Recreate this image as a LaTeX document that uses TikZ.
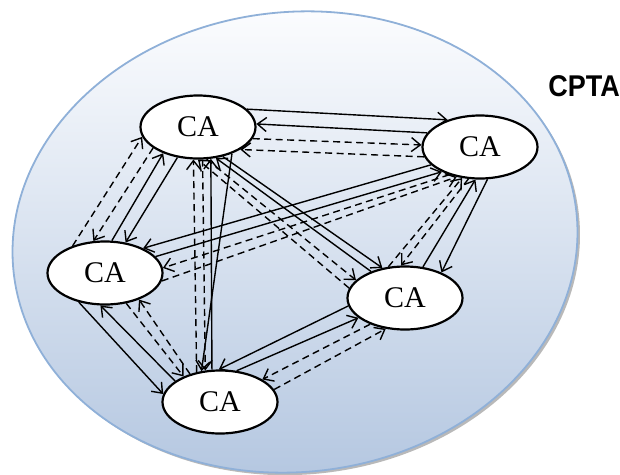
\documentclass[tikz,border=0pt]{standalone}
\usepackage{graphicx}
\usepackage{fontspec}
\setmainfont{Liberation Serif}
\setsansfont{Liberation Sans}
\usetikzlibrary{shapes, arrows.meta}

\definecolor{cptaedge}{HTML}{8FB0D8}
\definecolor{cptatop}{HTML}{FBFCFE}
\definecolor{cptabot}{HTML}{B3C6E0}

\begin{document}
\begin{tikzpicture}[x=1pt, y=-1pt,
    ca/.style={ellipse, draw, line width=2.2pt, fill=white, minimum width=115pt, minimum height=63pt, inner sep=0pt, font=\fontsize{30}{32}\selectfont},
    sarr/.style={-{Straight Barb[length=9pt, width=14pt]}, line width=1.4pt},
    darr/.style={sarr, dash pattern=on 7pt off 4.5pt}]
    \useasboundingbox (0,0) rectangle (620,474);
    \fill[gray!55, rotate around={6:(297.5,244.5)}] (297.5,244.5) ellipse [x radius=283, y radius=230];
    \shadedraw[top color=cptatop, bottom color=cptabot, draw=cptaedge, line width=1.8pt, rotate around={6:(295,242)}] (295,242) ellipse [x radius=283, y radius=230];
    \node[font=\fontsize{30}{32}\selectfont\sffamily\bfseries] (CPTA) at (584,86) {\scalebox{0.9}[1]{CPTA}};

    \node[ca] (CA_tl) at (198,127) {CA};
    \node[ca] (CA_tr) at (480,147) {CA};
    \node[ca] (CA_l) at (105,273) {CA};
    \node[ca] (CA_r) at (405,298) {CA};
    \node[ca] (CA_b) at (220,402) {CA};

    \draw[sarr] (CA_tl.20) -- (CA_tr.140);
    \draw[sarr] (CA_tr.165) -- (CA_tl.3);
    \draw[darr] (CA_tl.348) -- (CA_tr.178);
    \draw[darr] (CA_tr.190) -- (CA_tl.332);

    \draw[darr] (CA_l.140) -- (CA_tl.190);
    \draw[darr] (CA_tl.205) -- (CA_l.110);
    \draw[sarr] (CA_l.78) -- (CA_tl.217);
    \draw[sarr] (CA_tl.236) -- (CA_l.56);

    \draw[darr] (CA_b.128) -- (CA_tl.262);
    \draw[darr] (CA_tl.278) -- (CA_b.115);
    \draw[sarr] (CA_b.104) -- (CA_tl.292);
    \draw[sarr] (CA_tl.322) -- (CA_b.121);

    \draw[sarr] (CA_tl.310) -- (CA_r.127);
    \draw[sarr] (CA_r.142) -- (CA_tl.300);
    \draw[darr] (CA_tl.285) -- (CA_r.160);
    \draw[darr] (CA_r.170) -- (CA_tl.270);

    \draw[sarr] (CA_tr.200) -- (CA_l.33);
    \draw[sarr] (CA_l.18) -- (CA_tr.213);
    \draw[darr] (CA_tr.222) -- (CA_l.5);
    \draw[darr] (CA_l.352) -- (CA_tr.232);

    \draw[darr] (CA_r.118) -- (CA_tr.240);
    \draw[darr] (CA_tr.250) -- (CA_r.97);
    \draw[sarr] (CA_r.60) -- (CA_tr.262);
    \draw[sarr] (CA_tr.283) -- (CA_r.35);

    \draw[sarr] (CA_l.228) -- (CA_b.172);
    \draw[sarr] (CA_b.155) -- (CA_l.262);
    \draw[darr] (CA_l.305) -- (CA_b.145);
    \draw[darr] (CA_b.137) -- (CA_l.322);

    \draw[sarr] (CA_r.188) -- (CA_b.92);
    \draw[sarr] (CA_b.62) -- (CA_r.203);
    \draw[darr] (CA_r.217) -- (CA_b.28);
    \draw[darr] (CA_b.13) -- (CA_r.238);
\end{tikzpicture}
\end{document}
